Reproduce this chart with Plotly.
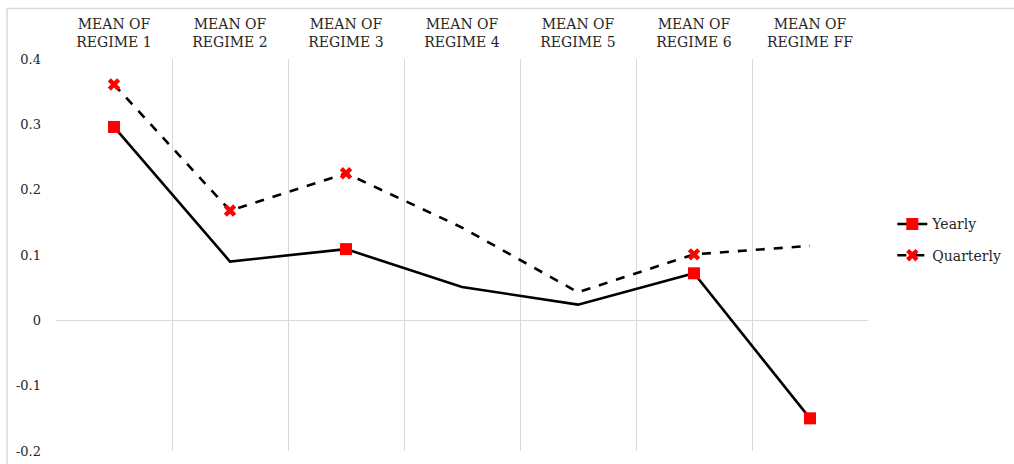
import plotly.graph_objects as go

# Regime labels along the top axis
categories = [
    "MEAN OF<br>REGIME 1", "MEAN OF<br>REGIME 2", "MEAN OF<br>REGIME 3",
    "MEAN OF<br>REGIME 4", "MEAN OF<br>REGIME 5", "MEAN OF<br>REGIME 6",
    "MEAN OF<br>REGIME FF",
]

# Series values
yearly = [0.296, 0.090, 0.109, 0.051, 0.024, 0.072, -0.150]
quarterly = [0.361, 0.168, 0.225, 0.142, 0.043, 0.101, 0.114]

# Which points carry a visible marker
yearly_marked = [True, False, True, False, False, True, True]
quarterly_marked = [True, True, True, False, False, True, False]

y_ticks = [-0.2, -0.1, 0, 0.1, 0.2, 0.3, 0.4]
y_ticktext = ["-0.2", "-0.1", "0", "0.1", "0.2", "0.3", "0.4"]

RED = "#ff0000"
CLEAR = "rgba(0,0,0,0)"
SERIF = "DejaVu Serif"


def marker_colors(flags):
    return [RED if f else CLEAR for f in flags]


fig = go.Figure()
fig.add_trace(go.Scatter(
    x=categories, y=yearly, name="Yearly", mode="lines+markers",
    legendgroup="yearly",
    line=dict(color="black", width=2.6),
    marker=dict(symbol="square", size=12, color=marker_colors(yearly_marked),
                line=dict(width=0)),
))
fig.add_trace(go.Scatter(
    x=categories, y=quarterly, name="Quarterly", mode="lines+markers",
    legendgroup="quarterly",
    line=dict(color="black", width=2.6, dash="dash"),
    marker=dict(symbol="x", size=11, color=marker_colors(quarterly_marked),
                line=dict(width=0)),
))

fig.update_layout(
    width=1014, height=464,
    margin=dict(l=56, r=146, t=59, b=13),
    paper_bgcolor="white", plot_bgcolor="white",
    font=dict(family=SERIF, size=13, color="#404040"),
    showlegend=True,
    legend=dict(
        xref="container", yref="container",
        x=0.88, xanchor="left", y=0.483, yanchor="middle",
        font=dict(family=SERIF, size=14, color="#262626"),
        bgcolor="rgba(0,0,0,0)", tracegroupgap=10,
    ),
    xaxis=dict(
        type="category", side="top", range=[-0.5, 6.5], automargin=False,
        tickson="boundaries", showgrid=True, gridcolor="#d9d9d9", gridwidth=1,
        ticks="", showline=False, zeroline=False,
        tickfont=dict(family=SERIF, size=14, color="#262626"),
        ticklabelstandoff=8,
    ),
    yaxis=dict(
        range=[-0.2, 0.4], tickvals=y_ticks, ticktext=y_ticktext, automargin=False,
        showgrid=False, zeroline=True, zerolinecolor="#d9d9d9", zerolinewidth=1,
        showline=False, ticks="",
        tickfont=dict(family=SERIF, size=13, color="#262626"),
        ticklabelstandoff=14,
    ),
    shapes=[dict(
        type="rect", xref="paper", yref="paper",
        x0=-0.0603, x1=1.19, y0=-0.06, y1=1.1288,
        line=dict(color="#d9d9d9", width=1.5), fillcolor="rgba(0,0,0,0)",
        layer="below",
    )],
)

fig.write_html("out.html")
